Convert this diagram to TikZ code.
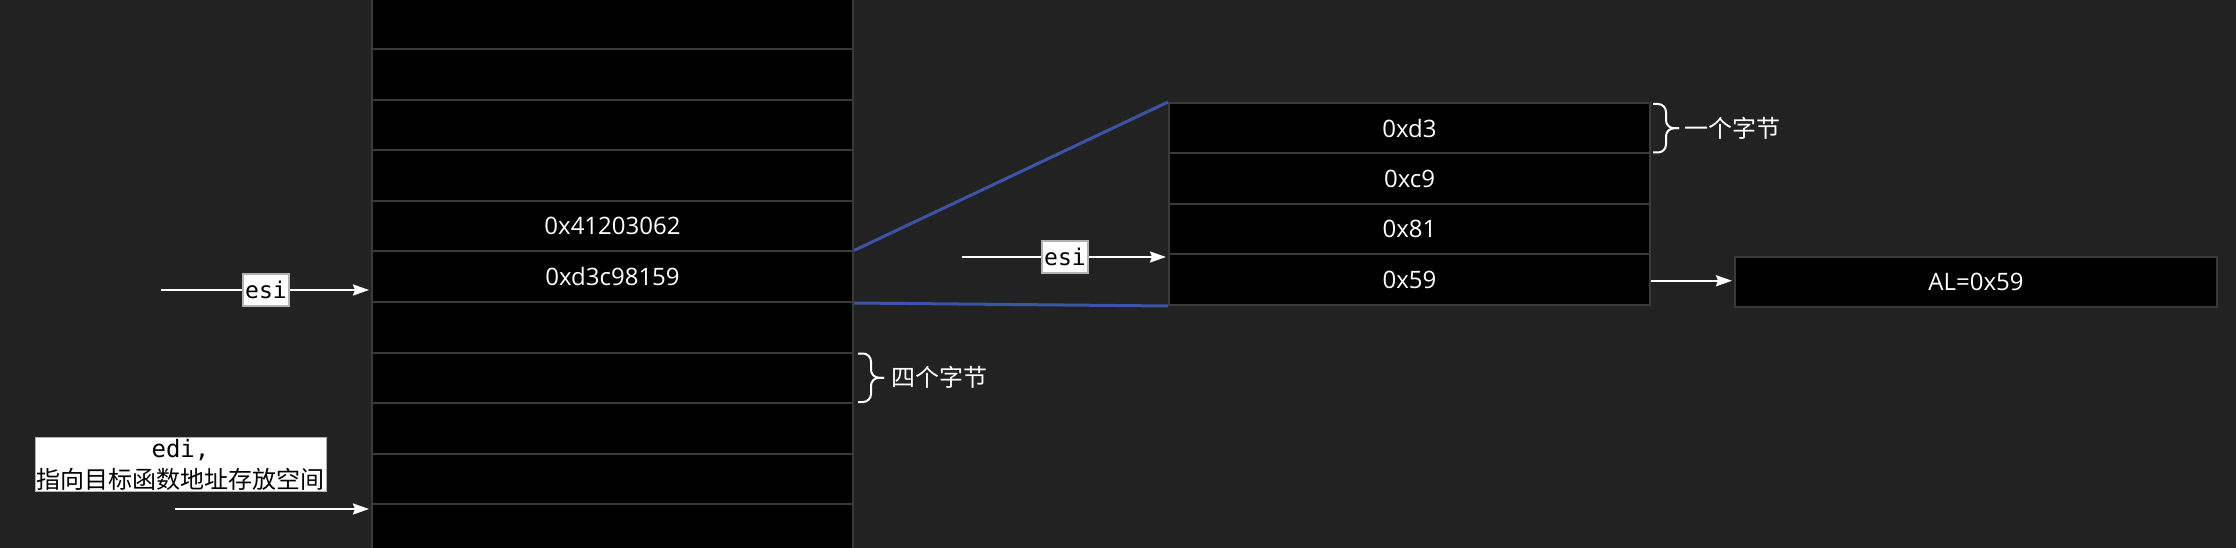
\documentclass[tikz,border=0pt]{standalone}
\usepackage{fontspec}
\setmainfont{Open Sans}
\setmonofont{DejaVu Sans Mono}
\newfontfamily\cjk{Noto Sans CJK SC}
\usetikzlibrary{arrows.meta}
\definecolor{bgdark}{RGB}{34,34,34}
\definecolor{cellline}{RGB}{58,58,58}
\definecolor{linkblue}{RGB}{59,84,165}

\begin{document}
\begin{tikzpicture}[x=1pt,y=-1pt,
    cell/.style={draw=cellline, fill=black, line width=2pt, minimum width=481pt,
        minimum height=50.5pt, inner sep=0pt, text=white, font=\fontsize{24}{28}\selectfont},
    tag/.style={draw=gray!60, fill=white, text=black, inner sep=2pt, minimum height=32pt,
        font=\fontsize{23}{31}\selectfont\ttfamily},
    ptr/.style={draw=white, line width=2pt, shorten >=2pt, -{Stealth[length=16pt,width=11pt,inset=2pt]}},
    link/.style={draw=linkblue, line width=3pt},
    bracket/.style={draw=white, line width=2pt, rounded corners=8pt},
    note/.style={text=white, inner sep=0pt, font=\fontsize{24}{28}\selectfont\cjk}]
    \fill[bgdark] (0,0) rectangle (2236,548);
    \clip (0,0) rectangle (2236,548);
    % memory, four bytes per row
    \foreach \i/\txt in {0/,1/,2/,3/,4/0x41203062,5/0xd3c98159,6/,7/,8/,9/,10/}
        \node[cell] (m\i) at (612.5,24.25+50.5*\i) {\txt};
    % one byte per row
    \foreach \i/\txt in {0/0xd3,1/0xc9,2/0x81,3/0x59}
        \node[cell] (b\i) at (1409.5,128.25+50.5*\i) {\txt};
    \node[cell, minimum width=482pt, minimum height=50pt] (al) at (1976,282) {AL=0x59};
    \draw[link] (m5.north east) -- (b0.north west);
    \draw[link] (m5.south east) -- (b3.south west);
    % pointers
    \coordinate (s1) at (161,290);
    \draw[ptr] (s1) -- (s1 -| m5.west) node[tag, midway] {esi};
    \coordinate (s2) at (962,257);
    \draw[ptr] (s2) -- (s2 -| b3.west) node[tag, midway] {esi};
    \coordinate (d0) at (175,509);
    \draw[ptr] (d0) -- (d0 -| m10.west);
    \node[tag, align=center, inner sep=1.5pt, font=\fontsize{24}{31}\selectfont\ttfamily] (edi)
        at (180.5,464.5) {edi,\\{\cjk 指向目标函数地址存放空间}};
    \draw[ptr] ([yshift=-1pt]b3.east) -- ([yshift=-1pt]b3.east -| al.west);
    % braces
    \draw[bracket] ([xshift=4pt,yshift=-2pt]m7.north east) -| ([xshift=17pt]m7.east) -- ([xshift=30pt]m7.east);
    \draw[bracket] ([xshift=4pt,yshift=2pt]m7.south east) -| ([xshift=17pt]m7.east) -- ([xshift=30pt]m7.east);
    \node[note, anchor=west] (four) at ([xshift=37pt]m7.east) {四个字节};
    \draw[bracket] ([xshift=2pt,yshift=-2pt]b0.north east) -| ([xshift=15pt]b0.east) -- ([xshift=28pt]b0.east);
    \draw[bracket] ([xshift=2pt,yshift=2pt]b0.south east) -| ([xshift=15pt]b0.east) -- ([xshift=28pt]b0.east);
    \node[note, anchor=west] (one) at ([xshift=33pt]b0.east) {一个字节};
\end{tikzpicture}
\end{document}
